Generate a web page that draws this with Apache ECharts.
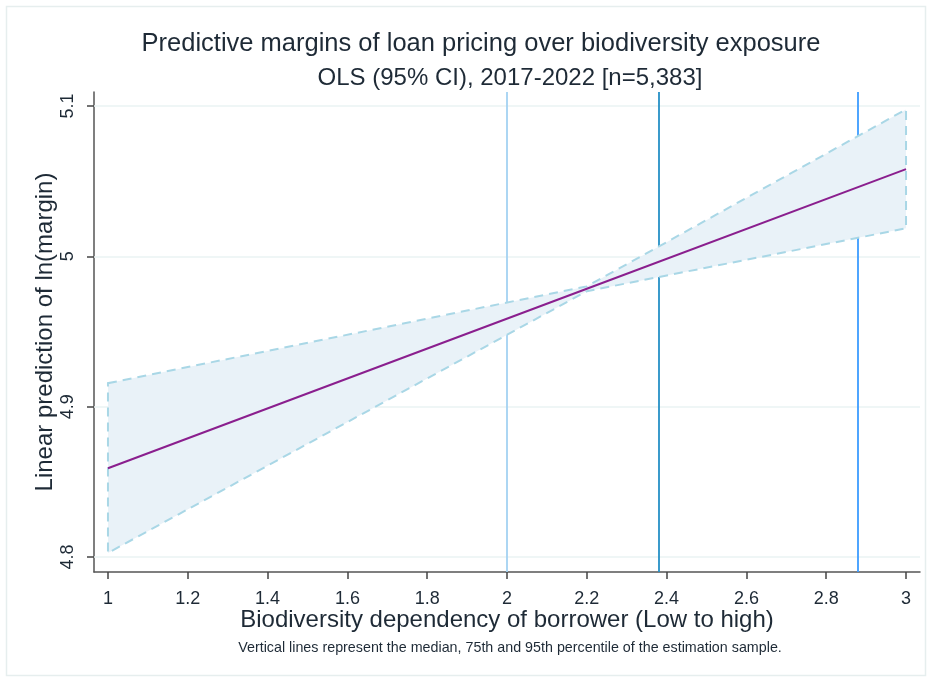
<!DOCTYPE html>
<html>
<head>
<meta charset="utf-8">
<script src="https://cdn.jsdelivr.net/npm/echarts@6/dist/echarts.min.js"></script>
<style>
html,body{margin:0;padding:0;background:#fff;}
#chart{width:932px;height:682px;}
</style>
</head>
<body>
<div id="chart"></div>
<script>
// ---- data ----
const xPoints = [1, 2.2, 3];
const fit = [4.859, 4.9784, 5.058];
const ciUpper = [4.9156, 4.9800, 5.0977];
const ciLower = [4.8027, 4.9768, 5.0186];
const percentileLines = [2, 2.378, 2.885];
const percentileColors = ['#a3d2f2', '#2590c6', '#3c9cff'];
const xTicks = [1, 1.2, 1.4, 1.6, 1.8, 2, 2.2, 2.4, 2.6, 2.8, 3];
const yTicks = [4.8, 4.9, 5, 5.1];

const FONT = "'Liberation Sans', Arial, sans-serif";
const TXT = '#1e2a36';

const chart = echarts.init(document.getElementById('chart'), null, {renderer: 'canvas'});

const option = {
  backgroundColor: '#ffffff',
  animation: false,
  title: [
    {text: 'Predictive margins of loan pricing over biodiversity exposure', left: 476, top: 26, textAlign: 'center',
     textStyle: {fontFamily: FONT, fontSize: 25.5, fontWeight: 'normal', color: TXT}},
    {text: 'OLS (95% CI), 2017-2022 [n=5,383]', left: 505, top: 61, textAlign: 'center',
     textStyle: {fontFamily: FONT, fontSize: 24, fontWeight: 'normal', color: TXT}},
    {text: 'Vertical lines represent the median, 75th and 95th percentile of the estimation sample.', left: 505, top: 636, textAlign: 'center',
     textStyle: {fontFamily: FONT, fontSize: 14.3, fontWeight: 'normal', color: TXT}}
  ],
  graphic: [
    {type: 'rect', shape: {x: 6.5, y: 6.5, width: 919, height: 669}, style: {fill: 'none', stroke: '#e6eeee', lineWidth: 1.5}, silent: true, z: -10}
  ],
  grid: {left: 94, right: 12, top: 92, bottom: 110},
  xAxis: {
    type: 'value', min: 0.965, max: 3.035,
    name: 'Biodiversity dependency of borrower (Low to high)',
    nameLocation: 'middle', nameGap: 36, nameMoveOverlap: false,
    nameTextStyle: {fontFamily: FONT, fontSize: 24, color: TXT},
    axisLine: {show: true, onZero: false, lineStyle: {color: '#555', width: 1.5}},
    axisTick: {show: true, customValues: xTicks, length: 7, lineStyle: {color: '#444', width: 1.5}},
    axisLabel: {customValues: xTicks, formatter: v => String(v), margin: 18,
      fontFamily: FONT, fontSize: 18, color: TXT},
    splitLine: {show: false}
  },
  yAxis: {
    type: 'value', min: 4.790, max: 5.1093,
    name: 'Linear prediction of ln(margin)',
    nameLocation: 'middle', nameGap: 37, nameMoveOverlap: false,
    nameTextStyle: {fontFamily: FONT, fontSize: 24, color: TXT},
    axisLine: {show: true, onZero: false, lineStyle: {color: '#555', width: 1.5}},
    axisTick: {show: true, customValues: yTicks, length: 7, lineStyle: {color: '#444', width: 1.5}},
    axisLabel: {customValues: yTicks, formatter: v => String(v), rotate: 90, margin: 17,
      fontFamily: FONT, fontSize: 18, color: TXT},
    splitLine: {show: false}
  },
  series: [
    {
      name: 'guides', type: 'line', z: 1, data: [], symbol: 'none',
      markLine: {
        z: 1, silent: true, symbol: 'none', label: {show: false}, animation: false,
        data: [
          ...yTicks.map(v => ({yAxis: v, lineStyle: {color: '#eaf3f3', width: 1.5, type: 'solid'}})),
          ...percentileLines.map((v, i) => ({xAxis: v, lineStyle: {color: percentileColors[i], width: 1.8, type: 'solid'}}))
        ]
      }
    },
    {
      name: 'CI', type: 'custom', z: 2, silent: true,
      data: [[xPoints[0], ciLower[0]]],
      encode: {x: 0, y: 1},
      renderItem: function (params, api) {
        const pts = [];
        for (let i = 0; i < xPoints.length; i++) pts.push(api.coord([xPoints[i], ciUpper[i]]));
        for (let i = xPoints.length - 1; i >= 0; i--) pts.push(api.coord([xPoints[i], ciLower[i]]));
        return {
          type: 'polygon', shape: {points: pts},
          style: {fill: '#e9f2f8', stroke: '#a9d7e6', lineWidth: 2, lineDash: [9, 6]}
        };
      }
    },
    {
      name: 'Fit', type: 'line', z: 3, symbol: 'none', silent: true,
      data: xPoints.map((x, i) => [x, fit[i]]),
      lineStyle: {color: '#8a1f8e', width: 2}
    }
  ]
};
chart.setOption(option);
</script>
</body>
</html>
